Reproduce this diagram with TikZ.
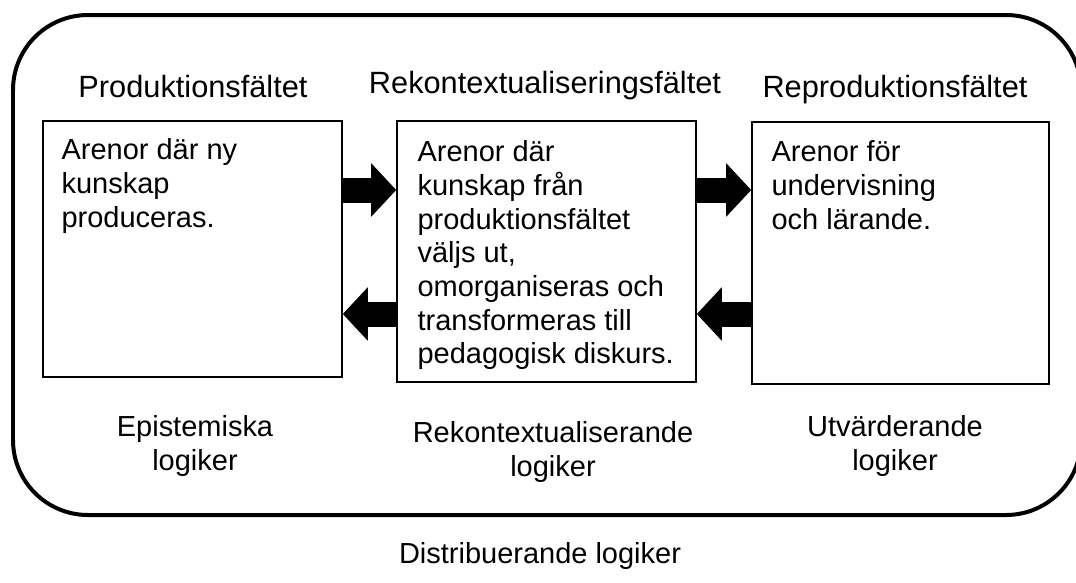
\documentclass[tikz,border=0pt]{standalone}
\usepackage{fontspec}
\setmainfont{Liberation Sans}
\usetikzlibrary{arrows.meta,calc}
\tikzset{
  field/.style={draw, line width=0.9pt, inner sep=0pt, minimum width=5.98cm},
  boxtext/.style={anchor=north west, inner sep=0pt, align=left},
  caption/.style={align=center, inner sep=0pt},
  heading/.style={caption, font=\fontsize{17.5}{20}\selectfont},
  flow/.style={line width=0.5cm, -{Triangle[length=0.5cm,width=1.04cm]}}
}
\begin{document}
\begin{tikzpicture}[x=0.02cm,y=-0.02cm,font=\fontsize{16.5}{19.2}\selectfont]
\useasboundingbox (0,0) rectangle (1076,582);
% the outer frame, its right side runs off the page
\begin{scope}
\clip (0,0) rectangle (1076,582);
\draw[line width=0.08cm, rounded corners=1.5cm] (13,15) rectangle (1081,515);
\end{scope}
% the three fields
\node[field, minimum height=5.12cm] (prod) at (192.5,249) {};
\node[field, minimum height=5.22cm] (rek) at (546.5,251.5) {};
\node[field, minimum height=5.24cm, minimum width=5.94cm] (repr) at (900.5,253) {};
\node[heading] (prodname) at (193,87) {Produktionsfältet};
\node[heading] (rekname) at (545,86) {Rekontextualiseringsfältet};
\node[heading] (reprname) at (895,90) {Reproduktionsfältet};
\node[boxtext] (prodtxt) at ($(prod.north west)+(19,18)$) {Arenor där ny\\kunskap\\produceras.};
\node[boxtext] (rektxt) at ($(rek.north west)+(21,20)$) {Arenor där\\kunskap från\\produktionsfältet\\väljs ut,\\omorganiseras och\\transformeras till\\pedagogisk diskurs.};
\node[boxtext] (reprtxt) at ($(repr.north west)+(20,19)$) {Arenor för\\undervisning\\och lärande.};
% logics below
\node[caption] (epis) at (195,446) {Epistemiska\\logiker};
\node[caption] (rekl) at (553,452) {Rekontextualiserande\\logiker};
\node[caption] (utv) at (895,446) {Utvärderande\\logiker};
\node[caption] (dist) at (540,556) {Distribuerande logiker};
% block arrows between the fields
\coordinate (upper) at (0,190);
\coordinate (lower) at (0,314);
\draw[flow] (prod.east |- upper) -- (rek.west |- upper);
\draw[flow] (rek.west |- lower) -- (prod.east |- lower);
\draw[flow] (rek.east |- upper) -- (repr.west |- upper);
\draw[flow] (repr.west |- lower) -- (rek.east |- lower);
\end{tikzpicture}
\end{document}
